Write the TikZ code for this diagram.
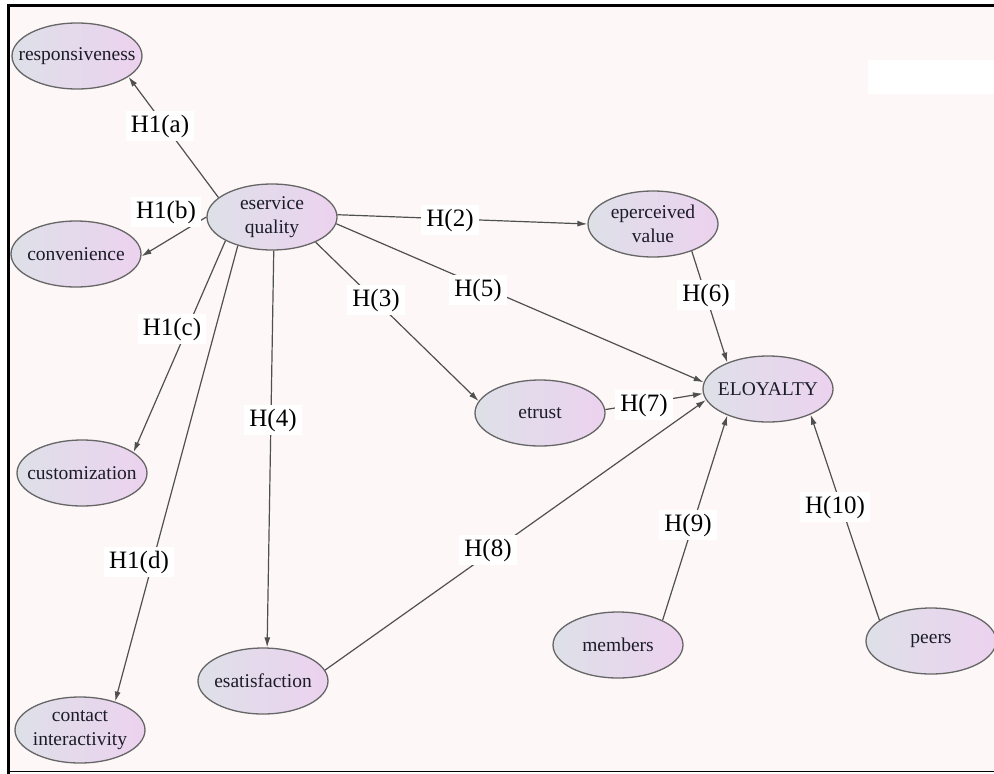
\documentclass[tikz,border=0pt]{standalone}
\usepackage{fontspec}
\setmainfont{Liberation Serif}
\usetikzlibrary{arrows.meta,shapes.geometric}
\definecolor{paper}{HTML}{FDF8F7}
\definecolor{edgegray}{HTML}{505050}
\definecolor{rimgray}{HTML}{666666}
\definecolor{shadeleft}{HTML}{DEE0E8}
\definecolor{shaderight}{HTML}{ECD2EF}
\definecolor{inkdark}{HTML}{1C1C28}
\definecolor{baseline}{HTML}{8A8A8A}
\begin{document}
\begin{tikzpicture}[x=1pt,y=-1pt,
  construct/.style={ellipse, draw=rimgray, line width=1.3pt,
    left color=shadeleft, right color=shaderight,
    minimum width=130pt, minimum height=66pt,
    inner xsep=-16pt, inner ysep=-5pt,
    font=\fontsize{19.5}{24}\selectfont, text=inkdark, align=center},
  link/.style={draw=edgegray, line width=1.2pt, -{Latex[length=10pt,width=6pt]}},
  hyp/.style={fill=white, inner xsep=5pt, inner ysep=4pt,
    font=\fontsize{25}{28}\selectfont, text=black}
]
\useasboundingbox (0,0) rectangle (994,774);

% sheet and frame
\fill[white] (0,0) rectangle (994,774);
\fill[paper] (8,5) rectangle (994,771);
\fill[white] (868,60) rectangle (994,94);
\draw[black, line width=3pt] (8,774) -- (8,5.5) -- (994,5.5);
\draw[baseline, line width=1.5pt] (8,771.5) -- (994,771.5);

% constructs
\node[construct] (resp)    at (77,56)   {responsiveness};
\node[construct] (eq)      at (272,217) {eservice\\quality};
\node[construct] (conv)    at (76,254)  {convenience};
\node[construct] (cust)    at (82,473)  {customization};
\node[construct] (contact) at (80,730)  {contact\\interactivity};
\node[construct] (esat)    at (263,681) {esatisfaction};
\node[construct] (eperc)   at (653,224) {eperceived\\value};
\node[construct] (etrust)  at (540,413) {etrust};
\node[construct] (eloy)    at (768,389) {ELOYALTY};
\node[construct] (members) at (618,645) {members};
\node[construct] (peers)   at (931,641) {peers};

% hypothesised paths
\draw[link] (eq.160) -- (resp.-22);
\draw[link] (eq.180) -- (conv.-2);
\draw[link] (eq.207) -- (cust.22);
\draw[link] (eq.220) -- (contact.39);
\draw[link] (eq.273) -- (esat.83);
\draw[link] (eq.2)   -- (eperc.180);
\draw[link] (eq.-30) -- (etrust.169);
\draw[link] (eq.-6)  -- (eloy.174);
\draw[link] (eperc.-35) -- (eloy.147);
\draw[link] (etrust.3)  -- (eloy.-176);
\draw[link] (esat.10)   -- (eloy.190);
\draw[link] (members.29) -- (eloy.213);
\draw[link] (peers.158)  -- (eloy.-31);

% path labels
\node[hyp] (h1a) at (160,126) {H1(a)};
\node[hyp] (h1b) at (166,212) {H1(b)};
\node[hyp] (h1c) at (172,329) {H1(c)};
\node[hyp] (h4)  at (273,420) {H(4)};
\node[hyp] (h1d) at (139,562) {H1(d)};
\node[hyp] (h2)  at (450,220) {H(2)};
\node[hyp] (h3)  at (376,300) {H(3)};
\node[hyp] (h5)  at (478,290) {H(5)};
\node[hyp] (h6)  at (706,295) {H(6)};
\node[hyp] (h7)  at (644,405) {H(7)};
\node[hyp] (h8)  at (488,550) {H(8)};
\node[hyp] (h9)  at (688,525) {H(9)};
\node[hyp] (h10) at (835,507) {H(10)};
\end{tikzpicture}
\end{document}
